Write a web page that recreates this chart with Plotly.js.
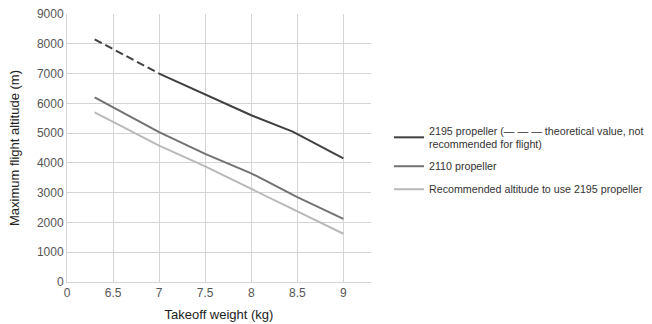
<!DOCTYPE html>
<html>
<head>
<meta charset="utf-8">
<script src="https://cdn.plot.ly/plotly-3.0.1.min.js"></script>
<style>html,body{margin:0;padding:0;background:#fff}#chart{width:652px;height:324px}</style>
</head>
<body>
<div id="chart"></div>
<script>
// Takeoff weight (kg)
const xTheory = [6.3, 7];
const yTheory = [8150, 7000];
const x2195 = [7, 7.5, 8, 8.45, 9];
const y2195 = [7000, 6300, 5600, 5050, 4150];
const x2110 = [6.3, 7, 7.5, 8, 8.5, 9];
const y2110 = [6200, 5030, 4300, 3650, 2850, 2120];
const xRec = [6.3, 7, 7.5, 8, 8.5, 9];
const yRec = [5700, 4580, 3880, 3120, 2370, 1620];
const xTickVals = [6, 6.5, 7, 7.5, 8, 8.5, 9];
const xTickText = ["0", "6.5", "7", "7.5", "8", "8.5", "9"];
const names = [
  "2195 propeller (\u2014 \u2014 \u2014 theoretical value, not<br>recommended for flight)",
  "2110 propeller",
  "Recommended altitude to use 2195 propeller"
];

const traces = [
  {x: xTheory, y: yTheory, mode: 'lines', line: {color: '#404040', width: 2, dash: '8px,4px'}, showlegend: false, hoverinfo: 'skip'},
  {x: x2195, y: y2195, mode: 'lines', name: names[0], legendgroup: 'a', line: {color: '#404040', width: 2}},
  {x: x2110, y: y2110, mode: 'lines', name: names[1], legendgroup: 'b', line: {color: '#727272', width: 2}},
  {x: xRec, y: yRec, mode: 'lines', name: names[2], legendgroup: 'c', line: {color: '#b9b9b9', width: 2}}
];

const layout = {
  width: 652, height: 324,
  margin: {l: 67, r: 0, t: 14, b: 42},
  paper_bgcolor: '#fff', plot_bgcolor: '#fff',
  font: {family: 'Liberation Sans, Arial, sans-serif', size: 12, color: '#444'},
  xaxis: {
    domain: [0, 304 / 585],
    range: [6, 9.3], tickvals: xTickVals, ticktext: xTickText,
    showgrid: true, gridcolor: '#d4d4d4', gridwidth: 1,
    zeroline: false, showline: true, linecolor: '#d4d4d4', ticks: '',
    tickfont: {size: 12, color: '#555'},
    title: {text: 'Takeoff weight (kg)', font: {size: 13, color: '#222'}, standoff: 10}
  },
  yaxis: {
    range: [0, 9000], dtick: 1000,
    showgrid: true, gridcolor: '#d4d4d4', gridwidth: 1,
    zeroline: false, showline: true, linecolor: '#d4d4d4', ticks: '',
    tickfont: {size: 12, color: '#555'},
    title: {text: 'Maximum flight altitude (m)', font: {size: 13, color: '#222'}, standoff: 14}
  },
  legend: {
    x: (389 - 67) / 585, y: 0.616, xanchor: 'left', yanchor: 'top',
    font: {size: 10.7, color: '#333'}, tracegroupgap: 4,
    bgcolor: 'rgba(0,0,0,0)'
  },
  showlegend: true
};

Plotly.newPlot('chart', traces, layout, {displayModeBar: false, staticPlot: true});
</script>
</body>
</html>
